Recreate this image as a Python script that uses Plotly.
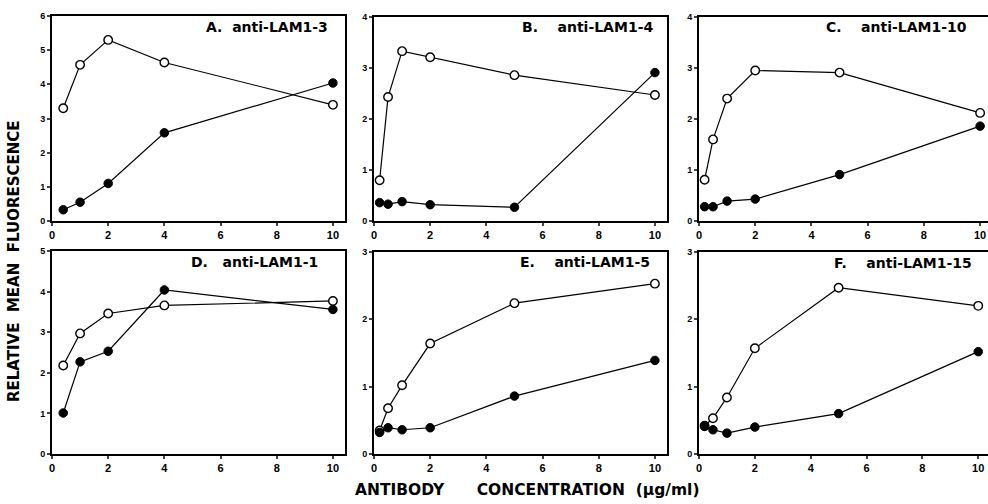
import plotly.graph_objects as go

W, H = 988, 504

# ---------------- data ----------------
A_x = [0.4, 1, 2, 4, 10]
A_open = [3.3, 4.57, 5.3, 4.64, 3.4]
A_filled = [0.33, 0.55, 1.1, 2.58, 4.04]

B_x = [0.2, 0.5, 1, 2, 5, 10]
B_open = [0.8, 2.43, 3.33, 3.21, 2.86, 2.47]
B_filled = [0.36, 0.33, 0.38, 0.32, 0.27, 2.91]

C_x = [0.2, 0.5, 1, 2, 5, 10]
C_open = [0.81, 1.6, 2.4, 2.95, 2.91, 2.12]
C_filled = [0.28, 0.28, 0.39, 0.43, 0.91, 1.86]

D_x = [0.4, 1, 2, 4, 10]
D_open = [2.18, 2.97, 3.46, 3.66, 3.77]
D_filled = [1.01, 2.27, 2.53, 4.04, 3.56]

E_x = [0.2, 0.5, 1, 2, 5, 10]
E_open = [0.35, 0.68, 1.02, 1.64, 2.24, 2.53]
E_filled = [0.32, 0.39, 0.36, 0.39, 0.86, 1.39]

F_x = [0.2, 0.5, 1, 2, 5, 10]
F_open = [0.42, 0.53, 0.84, 1.57, 2.47, 2.2]
F_filled = [0.41, 0.36, 0.31, 0.40, 0.60, 1.52]

panel_titles = ["A.\u00a0\u00a0anti-LAM1-3", "B.\u00a0\u00a0\u00a0\u00a0anti-LAM1-4",
                "C.\u00a0\u00a0\u00a0\u00a0anti-LAM1-10", "D.\u00a0\u00a0\u00a0anti-LAM1-1",
                "E.\u00a0\u00a0\u00a0\u00a0anti-LAM1-5", "F.\u00a0\u00a0\u00a0\u00a0anti-LAM1-15"]
y_max = [6, 4, 4, 5, 3, 3]
x_ticks = [0, 2, 4, 6, 8, 10]

panels = [(A_x, A_open, A_filled), (B_x, B_open, B_filled), (C_x, C_open, C_filled),
          (D_x, D_open, D_filled), (E_x, E_open, E_filled), (F_x, F_open, F_filled)]

# ---------------- layout geometry (pixels) ----------------
x_dom = [(52, 345), (374, 667), (699, 988), (52, 345), (374, 667), (699, 988)]
x_rng = [10.43, 10.43, 10.28, 10.43, 10.43, 10.35]
y_dom = [(16, 221), (17, 221), (17, 221), (251, 454), (252, 454), (252, 454)]
title_pos = [(330, 27), (655, 27), (969, 27), (320, 262), (652, 262), (974, 263)]

def px(p):
    return p / W

def py(p):
    return 1 - p / H

fig = go.Figure()
layout = dict(width=W, height=H, margin=dict(l=0, r=0, t=0, b=0, autoexpand=False),
              paper_bgcolor="white", plot_bgcolor="white", showlegend=False)

annotations = []
for i, (xs, yo, yf) in enumerate(panels):
    n = "" if i == 0 else str(i + 1)
    xa, ya = "x" + n, "y" + n
    fig.add_trace(go.Scatter(x=xs, y=yo, xaxis=xa, yaxis=ya, mode="lines+markers",
                             line=dict(color="black", width=1.2),
                             marker=dict(symbol="circle", size=8.5, color="white",
                                         line=dict(color="black", width=1.4)),
                             cliponaxis=False))
    fig.add_trace(go.Scatter(x=xs, y=yf, xaxis=xa, yaxis=ya, mode="lines+markers",
                             line=dict(color="black", width=1.2),
                             marker=dict(symbol="circle", size=8.5, color="black",
                                         line=dict(color="black", width=1)),
                             cliponaxis=False))
    layout["xaxis" + n] = dict(domain=[px(x_dom[i][0]), px(x_dom[i][1])], range=[0, x_rng[i]],
                               anchor=ya, tickvals=x_ticks, ticks="outside", ticklen=3,
                               tickwidth=1.5, showline=True, linecolor="black", linewidth=1.8,
                               mirror=True, showgrid=False, zeroline=False, automargin=False,
                               tickfont=dict(family="Liberation Sans", size=11, color="black",
                                             weight="bold"))
    layout["yaxis" + n] = dict(domain=[py(y_dom[i][1]), py(y_dom[i][0])], range=[0, y_max[i]],
                               anchor=xa, dtick=1, ticks="outside", ticklen=3, tickwidth=1.5,
                               showline=True, linecolor="black", linewidth=1.8, mirror=True,
                               showgrid=False, zeroline=False, automargin=False,
                               tickfont=dict(family="Liberation Sans", size=9, color="black",
                                             weight="bold"))
    annotations.append(dict(text=panel_titles[i], xref="paper", yref="paper",
                            x=px(title_pos[i][0]), y=py(title_pos[i][1]),
                            xanchor="right", yanchor="middle", showarrow=False,
                            font=dict(family="DejaVu Sans", size=14, color="black",
                                      weight="bold")))

annotations.append(dict(text="ANTIBODY\u00a0\u00a0\u00a0\u00a0\u00a0\u00a0CONCENTRATION\u00a0\u00a0(\u03bcg/ml)",
                        xref="paper", yref="paper", x=px(353), y=py(490),
                        xanchor="left", yanchor="middle", showarrow=False,
                        font=dict(family="DejaVu Sans", size=15.5, color="black", weight="bold")))
annotations.append(dict(text="RELATIVE\u00a0\u00a0MEAN\u00a0\u00a0FLUORESCENCE",
                        xref="paper", yref="paper", x=px(14), y=py(261),
                        xanchor="center", yanchor="middle", textangle=-90, showarrow=False,
                        font=dict(family="DejaVu Sans", size=15, color="black", weight="bold")))
layout["annotations"] = annotations
fig.update_layout(**layout)
fig.write_html("out.html", config={"displayModeBar": False},
               post_script="document.body.style.margin='0';document.body.style.overflow='hidden';")
